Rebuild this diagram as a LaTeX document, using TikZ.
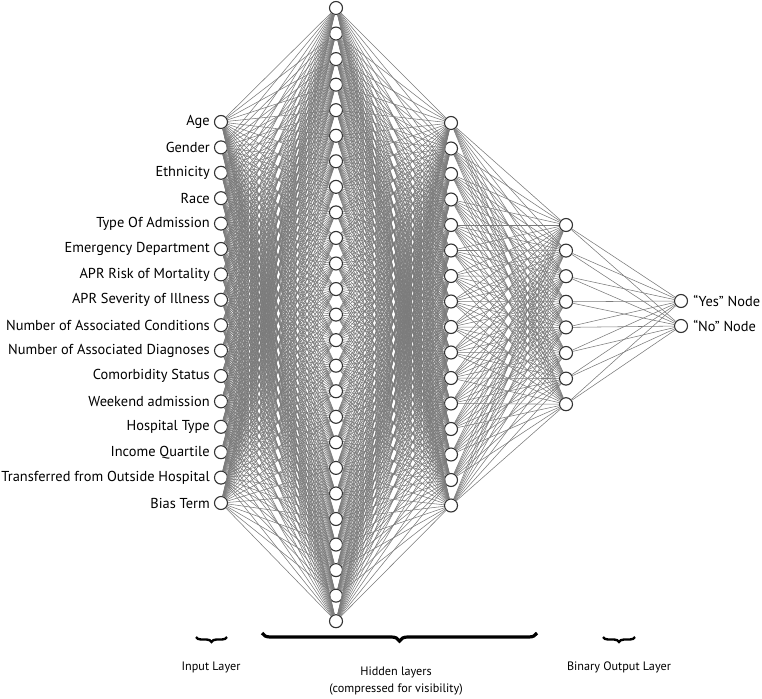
\documentclass[tikz,border=0pt]{standalone}
\usepackage{fontspec}
\setmainfont{PT Sans}
\usetikzlibrary{decorations.pathreplacing}
\begin{document}
\begin{tikzpicture}[x=1pt,y=-1pt,
  neuron/.style={circle,draw=black!80,fill=white,line width=1.1pt,minimum size=13pt,inner sep=0pt},
  edge/.style={draw=black!52,line width=0.55pt},
  lbl/.style={font=\fontsize{14.4}{16}\selectfont,anchor=east,inner sep=0pt},
  captxt/.style={font=\fontsize{12.2}{17}\selectfont,align=center,inner sep=0pt},
  bigbrace/.style={decorate,decoration={brace,mirror,amplitude=8pt},line width=3.2pt,draw=black},
  smallbrace/.style={decorate,decoration={brace,mirror,amplitude=5pt},line width=2.4pt,draw=black}]
\useasboundingbox (0,0) rectangle (762,698);
% layers
\foreach \i in {1,...,16} \node[neuron] (i\i) at (221,{122+(\i-1)*25.4}) {};
\foreach \i in {1,...,25} \node[neuron] (a\i) at (336,{8+(\i-1)*25.55}) {};
\foreach \i in {1,...,16} \node[neuron] (b\i) at (451,{123+(\i-1)*25.5}) {};
\foreach \i in {1,...,8} \node[neuron] (c\i) at (566,{225+(\i-1)*25.6}) {};
\node[neuron] (o1) at (681,301) {};
\node[neuron] (o2) at (681,326) {};
% edges
\foreach \i in {1,...,16} \foreach \j in {1,...,25} \draw[edge] (i\i) -- (a\j);
\foreach \i in {1,...,25} \foreach \j in {1,...,16} \draw[edge] (a\i) -- (b\j);
\foreach \i in {1,...,16} \foreach \j in {1,...,8} \draw[edge] (b\i) -- (c\j);
\foreach \i in {1,...,8} \foreach \j in {1,2} \draw[edge] (c\i) -- (o\j);
% input labels
\foreach \t [count=\k] in {Age,Gender,Ethnicity,Race,Type Of Admission,Emergency Department,APR Risk of Mortality,APR Severity of Illness,Number of Associated Conditions,Number of Associated Diagnoses,Comorbidity Status,Weekend admission,Hospital Type,Income Quartile,Transferred from Outside Hospital,Bias Term}
  \node[lbl] (l\k) at ([xshift=-4pt]i\k.west) {\t};
\node[lbl,anchor=west] (ly) at ([xshift=5pt]o1.east) {“Yes” Node};
\node[lbl,anchor=west] (ln) at ([xshift=5pt]o2.east) {“No” Node};
% braces
\coordinate (ib1) at (196,637);
\coordinate (ib2) at (227,637);
\draw[smallbrace] (ib1) -- (ib2);
\coordinate (hb1) at (262,633);
\coordinate (hb2) at (537,633);
\draw[bigbrace] (hb1) -- (hb2);
\coordinate (ob1) at (603,637);
\coordinate (ob2) at (635,637);
\draw[smallbrace] (ob1) -- (ob2);
\node[captxt] (tin) at (211,667) {Input Layer};
\node[captxt] (thid) at (396,681) {Hidden layers\\(compressed for visibility)};
\node[captxt] (tout) at (619,667) {Binary Output Layer};
\end{tikzpicture}
\end{document}
